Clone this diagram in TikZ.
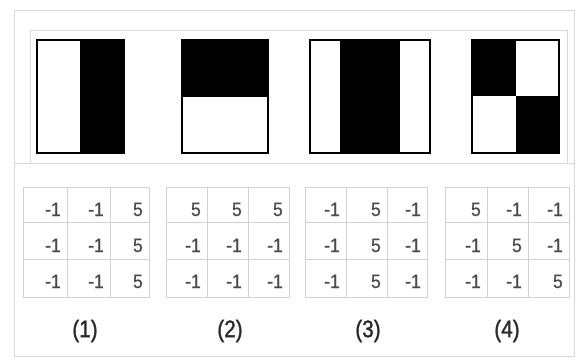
\documentclass[tikz,border=0pt]{standalone}
\usepackage{fontspec}
\setmainfont{Liberation Sans}
\newfontfamily\narrowfont[FakeStretch=0.9,FakeBold=0.6]{Liberation Sans}
\newfontfamily\capfont[FakeStretch=0.86,FakeBold=1.4]{Liberation Sans}
\definecolor{framec}{HTML}{D8D8D8}
\definecolor{gridc}{HTML}{D2D2D2}
\definecolor{numc}{HTML}{4A4A4A}
\definecolor{labc}{HTML}{2A2A2A}
\tikzset{
  framebox/.style={draw=framec, line width=0.8pt},
  gridline/.style={draw=gridc, line width=0.8pt},
  patbox/.style={draw=black, line width=2pt},
  patfill/.style={fill=black},
  cellnum/.style={inner sep=0pt, anchor=base east, text=numc, font=\narrowfont\fontsize{19.5}{19.5}\selectfont},
  caption/.style={inner sep=0pt, text=labc, font=\capfont\fontsize{24}{24}\selectfont}
}
\begin{document}
\begin{tikzpicture}[x=1pt,y=-1pt]
\useasboundingbox (0,0) rectangle (581,361);
\fill[white] (0,0) rectangle (581,361);
% frames
\draw[framebox] (14,10) rectangle (574,356);
\draw[framebox] (30,30) rectangle (567,163);
\draw[framebox] (14,163) -- (574,163);
% pattern 1
\fill[patfill] (80,40) rectangle (124,153);
\draw[patbox] (37,40) rectangle (124,153);
% pattern 2
\fill[patfill] (182,40) rectangle (268,97);
\draw[patbox] (182,40) rectangle (268,153);
% pattern 3
\fill[patfill] (340,40) rectangle (400,153);
\draw[patbox] (310,40) rectangle (430,153);
% pattern 4
\fill[patfill] (472,40) rectangle (516,96);
\fill[patfill] (516,96) rectangle (559,153);
\draw[patbox] (472,40) rectangle (559,153);
% tables
\foreach \t/\xa/\xb/\xc/\xd/\vals in {
  1/23/67/110/149/{-1,-1,5,-1,-1,5,-1,-1,5},
  2/166/207/248/289/{5,5,5,-1,-1,-1,-1,-1,-1},
  3/305/346/387/427/{-1,5,-1,-1,5,-1,-1,5,-1},
  4/445/487/528/569/{5,-1,-1,-1,5,-1,-1,-1,5}}{
  \draw[gridline] (\xa,187) rectangle (\xd,297);
  \draw[gridline] (\xb,187) -- (\xb,297);
  \draw[gridline] (\xc,187) -- (\xc,297);
  \draw[gridline] (\xa,222) -- (\xd,222);
  \draw[gridline] (\xa,259) -- (\xd,259);
  \foreach \v [count=\i from 0] in \vals {
    \pgfmathtruncatemacro{\r}{div(\i,3)}
    \pgfmathtruncatemacro{\c}{mod(\i,3)}
    \pgfmathsetmacro{\xr}{\c==0 ? \xb : (\c==1 ? \xc : \xd)}
    \pgfmathsetmacro{\yb}{\r==0 ? 216 : (\r==1 ? 252 : 288)}
    \node[cellnum] (t\t-\r-\c) at (\xr-6,\yb) {\v};
  }
}
% captions
\node[caption] (cap1) at (85,331) {(1)};
\node[caption] (cap2) at (230,331) {(2)};
\node[caption] (cap3) at (368,331) {(3)};
\node[caption] (cap4) at (507,331) {(4)};
\end{tikzpicture}
\end{document}
